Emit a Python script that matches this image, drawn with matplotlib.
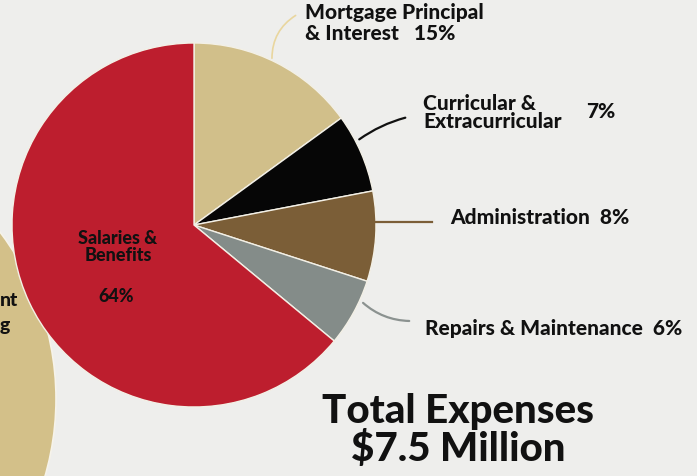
import matplotlib
matplotlib.use("Agg")
import matplotlib.pyplot as plt
from matplotlib.patches import Circle

plt.rcParams['font.family'] = ['Lato', 'DejaVu Sans']

# expense shares, clockwise from 12 o'clock
categories = ['Mortgage Principal\n& Interest', 'Curricular &\nExtracurricular',
              'Administration', 'Repairs & Maintenance', 'Salaries &\nBenefits']
shares = [15, 7, 8, 6, 64]
colors = ['#d1bf8a', '#060606', '#7b5e37', '#848c89', '#bd1e2e']
total_label = 'Total Expenses\n$7.5 Million'

W, H = 697, 477
bg = '#eeeeec'

fig = plt.figure(figsize=(W / 100, H / 100), dpi=100, facecolor=bg)
ax = fig.add_axes([0, 0, 1, 1])
ax.set_facecolor(bg)


def y(py):
    # convert picture row to data y
    return H - py


# part of the neighbouring (revenue) pie, cut off at the left edge
ax.add_patch(Circle((-221, y(400)), 277, facecolor='#d3c089',
                    edgecolor='#f6f3ea', linewidth=1.2, zorder=1))
ax.text(0, y(300), 'nt', ha='left', va='center', fontsize=14,
        fontweight='black', color='#111111')
ax.text(0, y(325), 'g', ha='left', va='center', fontsize=14,
        fontweight='black', color='#111111')

ax.pie(shares, colors=colors, startangle=90, counterclock=False,
       center=(194, y(226)), radius=182, frame=True,
       wedgeprops=dict(edgecolor='#f3f0e6', linewidth=1.0, zorder=2))
ax.set_xlim(0, W)
ax.set_ylim(0, H)
ax.set_aspect('equal')
ax.axis('off')

lab = dict(fontsize=15, fontweight='black', color='#111111')

# Mortgage
ax.text(305, y(13), 'Mortgage Principal', ha='left', va='center', **lab)
ax.text(305, y(34), '& Interest   15%', ha='left', va='center', **lab)
ax.annotate('', xy=(272, y(62)), xytext=(298, y(15)),
            arrowprops=dict(arrowstyle='-', color='#e9d69e', lw=1.2,
                            connectionstyle='arc3,rad=0.3'))

# Curricular
ax.text(423, y(103), 'Curricular &', ha='left', va='center', **lab)
ax.text(423, y(122), 'Extracurricular', ha='left', va='center', **lab)
ax.text(586, y(111), '7%', ha='left', va='center', **lab)
ax.annotate('', xy=(357, y(142)), xytext=(408, y(118)),
            arrowprops=dict(arrowstyle='-', color='#111111', lw=1.6,
                            connectionstyle='arc3,rad=0.1'))

# Administration
ax.text(450, y(218), 'Administration  8%', ha='left', va='center', **lab)
ax.plot([376, 432], [y(223), y(223)], color='#7b5e37', lw=1.6)

# Repairs
ax.text(425, y(328), 'Repairs & Maintenance  6%', ha='left', va='center', **lab)
ax.annotate('', xy=(361, y(302)), xytext=(412, y(322)),
            arrowprops=dict(arrowstyle='-', color='#8b9290', lw=1.6,
                            connectionstyle='arc3,rad=-0.2'))

# Salaries inside the red slice
ax.text(118, y(247), categories[4], ha='center', va='center', fontsize=13,
        fontweight='black', color='#111111', linespacing=0.95)
ax.text(116, y(296), '64%', ha='center', va='center', fontsize=13,
        fontweight='black', color='#111111')

# total
ax.text(458, y(431), total_label, ha='center', va='center', fontsize=29,
        fontweight='black', color='#111111', linespacing=1.0)

fig.savefig('out.png', dpi=100, facecolor=bg)
